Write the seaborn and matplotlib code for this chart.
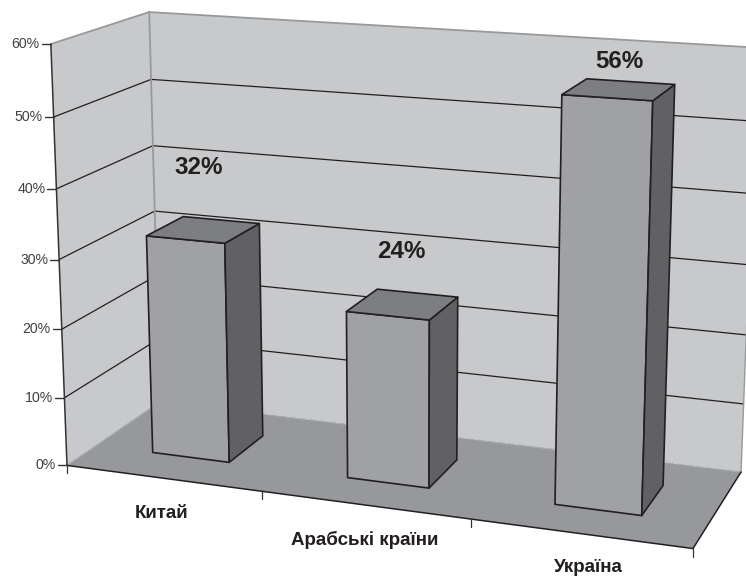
import numpy as np
import matplotlib
matplotlib.use('Agg')
import matplotlib.pyplot as plt
from matplotlib.patches import Polygon
import seaborn as sns

# data
categories = ['Китай', 'Арабські країни', 'Україна']
shares = [32, 24, 56]
value_ticks = [0, 10, 20, 30, 40, 50, 60]

# where the text sits in the picture (pixels)
share_label_xy = [(199, 167), (401, 251), (619, 61)]
category_label_xy = [(162, 514), (365, 540), (588, 567)]

# camera calibration: (category pos, depth, value) -> picture pixel
world_pts = [(0, 0, 0), (0, 0, 60), (0, 1, 60), (0, 1, 0), (3, 0, 0), (3, 1, 0),
             (3, 1, 60), (1, 0, 0), (2, 0, 0), (0, 0, 30), (0, 1, 30)]
pixel_pts = [(67, 465), (51, 44), (149, 12), (160, 402), (693, 548), (741, 472),
             (757, 47.6), (262, 491), (471, 520), (59, 260), (155, 211)]

WALL = '#c8c9cb'
FLOOR = '#97989b'
FRONT = '#a0a1a4'
SIDE = '#616163'
TOP = '#7d7e81'
INK = '#231f20'
EDGE_GRAY = '#98999b'


def fit_camera(world, pixel):
    """ Least squares fit of the 3x4 projection matrix """
    rows, rhs = [], []
    for (x, y, z), (u, v) in zip(world, pixel):
        w = [x, y, z / 60, 1]
        rows.append(w + [0, 0, 0, 0] + [-u * c for c in w[:3]])
        rhs.append(u)
        rows.append([0, 0, 0, 0] + w + [-v * c for c in w[:3]])
        rhs.append(v)
    p = np.linalg.lstsq(np.array(rows, float), np.array(rhs, float), rcond=None)[0]
    return np.append(p, 1).reshape(3, 4)


CAM = fit_camera(world_pts, pixel_pts)


def proj(x, y, z):
    """ World point to picture pixel """
    u, v, w = CAM @ np.array([x, y, z / 60, 1.0])
    return u / w, v / w


def face(ax, corners, color, zorder, edge='none', lw=0.0):
    ax.add_patch(Polygon([proj(*c) for c in corners], closed=True, facecolor=color,
                         edgecolor=edge, linewidth=lw, joinstyle='round', zorder=zorder))


def line(ax, a, b, color=INK, lw=1.0, zorder=2, **kw):
    (x0, y0), (x1, y1) = proj(*a), proj(*b)
    ax.plot([x0, x1], [y0, y1], color=color, lw=lw, zorder=zorder, solid_capstyle='round', **kw)


def main():
    sns.set_theme(style='white')
    plt.rcParams['font.family'] = ['Liberation Sans', 'DejaVu Sans']

    fig = plt.figure(figsize=(7.46, 5.76), dpi=100)
    ax = fig.add_axes([0, 0, 1, 1])

    # seaborn works out the bars, the 3D faces are then projected from them
    sns.barplot(x=categories, y=shares, width=0.4, color=FRONT, ax=ax)
    rects = [(p.get_x() + 0.5, p.get_x() + 0.5 + p.get_width(), p.get_height()) for p in ax.patches]
    for p in list(ax.patches):
        p.remove()

    ax.set_xlim(0, 746)
    ax.set_ylim(576, 0)
    ax.axis('off')

    n = len(categories)

    # walls and floor
    face(ax, [(0, 0, 0), (0, 1, 0), (0, 1, 60), (0, 0, 60)], WALL, 1)
    face(ax, [(0, 1, 0), (n, 1, 0), (n, 1, 60), (0, 1, 60)], WALL, 1)
    face(ax, [(0, 0, 0), (n, 0, 0), (n, 1, 0), (0, 1, 0)], FLOOR, 1)

    # gridlines on the two walls
    for v in value_ticks[1:-1]:
        line(ax, (0, 0, v), (0, 1, v), lw=0.9)
        line(ax, (0, 1, v), (n, 1, v), lw=0.9)

    # wall outline
    line(ax, (0, 0, 60), (0, 1, 60), color=EDGE_GRAY, lw=1.3)
    line(ax, (0, 1, 60), (n, 1, 60), color=EDGE_GRAY, lw=1.3)
    line(ax, (0, 1, 60), (0, 1, 0), color=EDGE_GRAY, lw=1.3)
    line(ax, (n, 1, 60), (n, 1, 0), color=EDGE_GRAY, lw=1.0)
    line(ax, (0, 0, 0), (0, 1, 0), color='#a9aaac', lw=0.9)
    line(ax, (0, 1, 0), (n, 1, 0), color='#a9aaac', lw=0.9, linestyle=(0, (6, 2)))

    # floor and value axis
    line(ax, (0, 0, 0), (0, 0, 60), color='#333335', lw=1.1, zorder=3)
    line(ax, (0, 0, 0), (n, 0, 0), lw=1.1, zorder=3)
    line(ax, (n, 0, 0), (n, 1, 0), lw=1.1, zorder=3)

    # value ticks and labels
    for v in value_ticks:
        x, y = proj(0, 0, v)
        ax.plot([x - 9, x], [y, y], color='#333335', lw=1.0, zorder=3)
        ax.text(x - 11, y, f'{v}%', ha='right', va='center', fontsize=10.2, color='#404042')

    # category ticks
    for k in range(n + 1):
        x, y = proj(k, 0, 0)
        ax.plot([x, x], [y, y + 8], color='#333335', lw=0.9, zorder=3)

    # bars
    d0, d1 = 0.3, 0.7
    for x0, x1, h in rects:
        face(ax, [(x0, d0, 0), (x1, d0, 0), (x1, d0, h), (x0, d0, h)], FRONT, 5, INK, 1.2)
        face(ax, [(x1, d0, 0), (x1, d1, 0), (x1, d1, h), (x1, d0, h)], SIDE, 5, INK, 1.2)
        face(ax, [(x0, d0, h), (x1, d0, h), (x1, d1, h), (x0, d1, h)], TOP, 5, INK, 1.2)

    for s, (x, y) in zip(shares, share_label_xy):
        ax.text(x, y, f'{s}%', ha='center', va='center', fontsize=17.4, fontweight='bold', color=INK, zorder=6)

    for c, (x, y) in zip(categories, category_label_xy):
        ax.text(x, y, c, ha='center', va='center', fontsize=13.5, fontweight='bold', color=INK, zorder=6)

    fig.savefig('out.png', dpi=100)


if __name__ == '__main__':
    main()
